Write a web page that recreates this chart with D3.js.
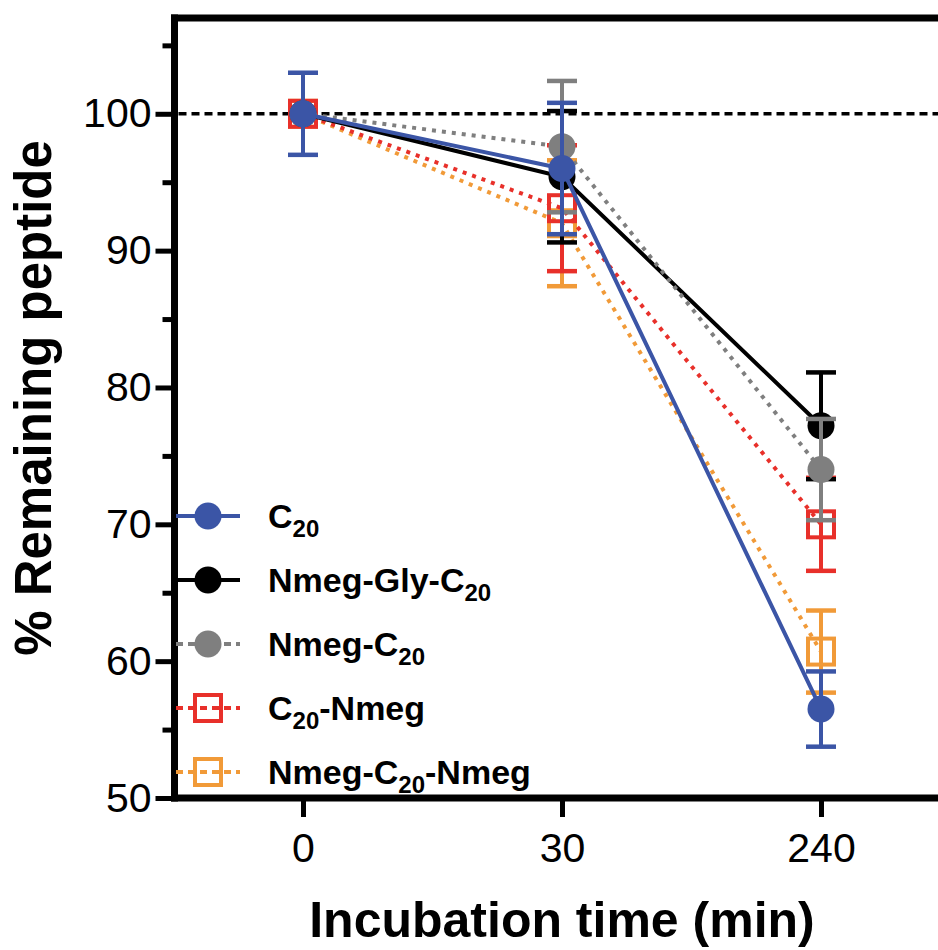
<!DOCTYPE html>
<html>
<head>
<meta charset="utf-8">
<script src="https://cdn.jsdelivr.net/npm/d3@7"></script>
<style>
  body { margin: 0; background: #fff; }
  text { font-family: "Liberation Sans", Arial, sans-serif; }
</style>
</head>
<body>
<svg id="chart" width="938" height="950"></svg>
<script>
// incubation times (categorical x axis)
const times = ["0", "30", "240"];

// series order = legend order
const seriesKeys = ["c20", "nmegGly", "nmegC20", "c20Nmeg", "nmegC20Nmeg"];
const seriesLabels = [
  [["C", false], ["20", true]],
  [["Nmeg-Gly-C", false], ["20", true]],
  [["Nmeg-C", false], ["20", true]],
  [["C", false], ["20", true], ["-Nmeg", false]],
  [["Nmeg-C", false], ["20", true], ["-Nmeg", false]]
];

// % remaining peptide (mean) and error per time point
const c20Mean = [100, 96.0, 56.5];
const c20Err = [3.0, 4.8, 2.75];
const nmegGlyMean = [100, 95.4, 77.2];
const nmegGlyErr = [0, 4.8, 3.9];
const nmegC20Mean = [100, 97.6, 74.0];
const nmegC20Err = [0, 4.8, 3.7];
const c20NmegMean = [100, 93.1, 70.0];
const c20NmegErr = [0, 4.6, 3.4];
const nmegC20NmegMean = [100, 92.0, 60.7];
const nmegC20NmegErr = [0, 4.6, 3.0];

const yMajorTicks = [50, 60, 70, 80, 90, 100];
const yMinorTicks = [55, 65, 75, 85, 95, 105];

const means = { c20: c20Mean, nmegGly: nmegGlyMean, nmegC20: nmegC20Mean, c20Nmeg: c20NmegMean, nmegC20Nmeg: nmegC20NmegMean };
const errs = { c20: c20Err, nmegGly: nmegGlyErr, nmegC20: nmegC20Err, c20Nmeg: c20NmegErr, nmegC20Nmeg: nmegC20NmegErr };

const style = {
  c20: { color: "#3B55A6", dash: null, symbol: "circle" },
  nmegGly: { color: "#000000", dash: null, symbol: "circle" },
  nmegC20: { color: "#7f7f7f", dash: "4,6", symbol: "circle" },
  c20Nmeg: { color: "#E8302A", dash: "4,6", symbol: "square" },
  nmegC20Nmeg: { color: "#F19A38", dash: "4,6", symbol: "square" }
};

const svg = d3.select("#chart");
const plotLeft = 174.5, plotRight = 945, plotTop = 18, plotBottom = 798;

const x = d3.scalePoint().domain(times).range([303, 821]);
const y = d3.scaleLinear().domain([50, 107]).range([plotBottom, plotTop]);

// Axes
const yMinor = d3.axisLeft(y).tickValues(yMinorTicks).tickSize(12).tickSizeOuter(0).tickFormat("");
const yMajor = d3.axisLeft(y).tickValues(yMajorTicks).tickSize(19).tickSizeOuter(0).tickPadding(4);
const xAxis = d3.axisBottom(x).tickSize(19).tickSizeOuter(0).tickPadding(16);

const gyMinor = svg.append("g").attr("transform", `translate(${plotLeft},0)`).call(yMinor);
const gyMajor = svg.append("g").attr("transform", `translate(${plotLeft},0)`).call(yMajor);
const gx = svg.append("g").attr("transform", `translate(0,${plotBottom})`).call(xAxis);

[gyMinor, gyMajor, gx].forEach((g) => {
  g.select(".domain").remove();
  g.selectAll(".tick line").attr("stroke", "#000").attr("stroke-width", 5);
  g.selectAll(".tick text").attr("fill", "#000").style("font-size", "41px");
});

// frame
svg.append("line").attr("x1", plotLeft).attr("x2", plotLeft).attr("y1", plotTop - 3.5).attr("y2", plotBottom + 3.5)
  .attr("stroke", "#000").attr("stroke-width", 7);
svg.append("line").attr("x1", plotLeft - 3.5).attr("x2", plotRight).attr("y1", plotTop).attr("y2", plotTop)
  .attr("stroke", "#000").attr("stroke-width", 7);
svg.append("line").attr("x1", plotLeft - 3.5).attr("x2", plotRight).attr("y1", plotBottom).attr("y2", plotBottom)
  .attr("stroke", "#000").attr("stroke-width", 7);

// reference line at 100 %
svg.append("line").attr("x1", plotLeft + 4).attr("x2", plotRight).attr("y1", y(100)).attr("y2", y(100))
  .attr("stroke", "#000").attr("stroke-width", 3.5).attr("stroke-dasharray", "8,5");

// axis titles
svg.append("text")
  .attr("x", x("30")).attr("y", 937)
  .attr("text-anchor", "middle")
  .style("font-weight", "bold").style("font-size", "50px")
  .text("Incubation time (min)");

svg.append("text")
  .attr("transform", "translate(51,398) rotate(-90)")
  .attr("text-anchor", "middle")
  .style("font-weight", "bold").style("font-size", "51px")
  .text("% Remaining peptide");

// series
function drawSymbol(g, type, color, cx, cy) {
  if (type === "circle") {
    g.append("circle").attr("cx", cx).attr("cy", cy).attr("r", 13.5).attr("fill", color);
  } else {
    g.append("rect").attr("x", cx - 13).attr("y", cy - 13).attr("width", 26).attr("height", 26)
      .attr("fill", "none").attr("stroke", color).attr("stroke-width", 4);
  }
}

const drawOrder = ["nmegC20Nmeg", "c20Nmeg", "nmegGly", "nmegC20", "c20"];
const line = d3.line().x((d) => x(d.t)).y((d) => y(d.v));

drawOrder.forEach((key) => {
  const s = style[key];
  const pts = times.map((t, i) => ({ t, v: means[key][i], e: errs[key][i] }));
  const g = svg.append("g");

  g.append("path").datum(pts).attr("d", line)
    .attr("fill", "none").attr("stroke", s.color).attr("stroke-width", 4)
    .attr("stroke-dasharray", s.dash);

  // error bars (skipped where the error is zero)
  pts.filter((d) => d.e > 0).forEach((d) => {
    const cx = x(d.t);
    g.append("line").attr("x1", cx).attr("x2", cx).attr("y1", y(d.v + d.e)).attr("y2", y(d.v - d.e))
      .attr("stroke", s.color).attr("stroke-width", 4);
    [d.v + d.e, d.v - d.e].forEach((v) => {
      g.append("line").attr("x1", cx - 15).attr("x2", cx + 15).attr("y1", y(v)).attr("y2", y(v))
        .attr("stroke", s.color).attr("stroke-width", 4.5);
    });
  });

  pts.forEach((d) => drawSymbol(g, s.symbol, s.color, x(d.t), y(d.v)));
});

// legend
const legend = svg.append("g");
seriesKeys.forEach((key, i) => {
  const s = style[key];
  const ly = 516 + i * 64;
  const row = legend.append("g");
  row.append("line").attr("x1", 176).attr("x2", 240).attr("y1", ly).attr("y2", ly)
    .attr("stroke", s.color).attr("stroke-width", 4)
    .attr("stroke-dasharray", s.dash ? "7,5" : null);
  drawSymbol(row, s.symbol, s.color, 208, ly);

  const txt = row.append("text").attr("x", 268).attr("y", ly + 12)
    .style("font-weight", "bold").style("font-size", "34px");
  let shifted = false;
  seriesLabels[i].forEach(([part, sub]) => {
    const ts = txt.append("tspan").text(part);
    if (sub) {
      ts.attr("dy", 9).style("font-size", "24px");
      shifted = true;
    } else if (shifted) {
      ts.attr("dy", -9);
      shifted = false;
    }
  });
});
</script>
</body>
</html>
